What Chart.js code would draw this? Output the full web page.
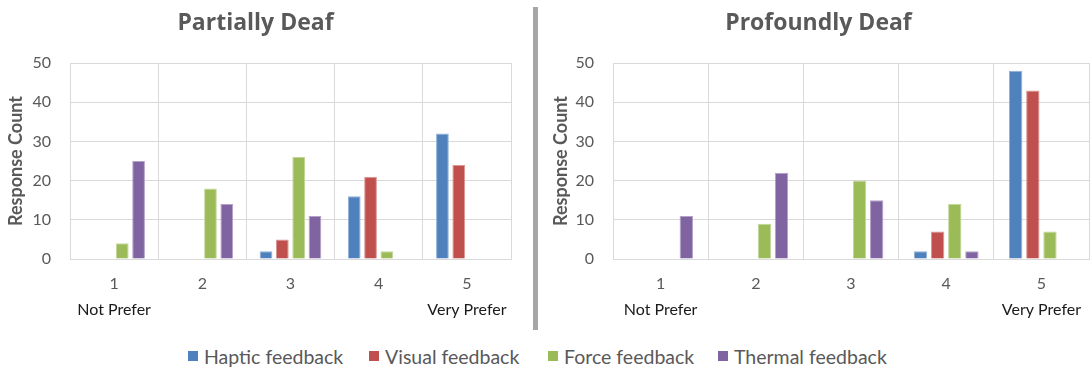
<!DOCTYPE html>
<html>
<head>
<meta charset="utf-8">
<script src="https://cdn.jsdelivr.net/npm/chart.js@4.4.1/dist/chart.umd.min.js"></script>
<style>
  html, body { margin: 0; padding: 0; background: #ffffff; }
  #stage { position: relative; width: 1090px; height: 369px; overflow: hidden; font-family: Lato, "Open Sans", sans-serif; }
  canvas { position: absolute; top: 0; }
  #divider { position: absolute; left: 533px; top: 7px; width: 5px; height: 323px; background: #a6a6a6; }
  .key { position: absolute; top: 345px; height: 22px; display: flex; align-items: center; color: #595959; font-size: 19.5px; white-space: nowrap; }
  .key i { display: inline-block; width: 10px; height: 10px; margin-right: 6px; }
</style>
</head>
<body>
<div id="stage">
  <canvas id="partial" width="514" height="330" style="left:0px"></canvas>
  <div id="divider"></div>
  <canvas id="profound" width="542" height="330" style="left:548px"></canvas>
  <div id="legend"></div>
</div>
<script>
// Preference scale (1 = not preferred, 5 = very preferred)
const categories = ['1', '2', '3', '4', '5'];
const scaleNotes = ['Not Prefer', '', '', '', 'Very Prefer'];
const yTicks = [0, 10, 20, 30, 40, 50];

const seriesNames = ['Haptic feedback', 'Visual feedback', 'Force feedback', 'Thermal feedback'];
const seriesColors = ['#4f81bd', '#c0504d', '#9bbb59', '#8064a2'];
const seriesEdges = ['#8fb0d8', '#d99694', '#c3d69b', '#b3a2c7'];

// Partially deaf respondents
const partialHaptic  = [0, 0, 2, 16, 32];
const partialVisual  = [0, 0, 5, 21, 24];
const partialForce   = [4, 18, 26, 2, 0];
const partialThermal = [25, 14, 11, 0, 0];

// Profoundly deaf respondents
const profoundHaptic  = [0, 0, 0, 2, 48];
const profoundVisual  = [0, 0, 0, 7, 43];
const profoundForce   = [0, 9, 20, 14, 7];
const profoundThermal = [11, 22, 15, 2, 0];

const FONT = 'Lato, "Open Sans", sans-serif';
const HEAD_FONT = '"Open Sans", Lato, sans-serif';
const GRID = '#d9d9d9';
const TEXT = '#595959';

function buildChart(id, titleText, series, yWidth, padRight, titlePad, catPct) {
  return new Chart(document.getElementById(id), {
    type: 'bar',
    data: {
      labels: categories,
      datasets: series.map((values, i) => ({
        label: seriesNames[i],
        data: values,
        backgroundColor: seriesColors[i],
        borderColor: seriesEdges[i],
        borderWidth: 1,
        categoryPercentage: catPct,
        barPercentage: 0.78
      }))
    },
    options: {
      responsive: false,
      animation: false,
      devicePixelRatio: 1,
      layout: { padding: { left: 0, right: padRight, top: 0, bottom: 11 } },
      plugins: {
        legend: { display: false },
        tooltip: { enabled: false },
        title: {
          display: true,
          text: titleText,
          color: TEXT,
          font: { family: HEAD_FONT, size: 23, weight: 'bold' },
          padding: { top: 10, bottom: 25.4 }
        }
      },
      scales: {
        x: {
          type: 'category',
          position: 'bottom',
          weight: 1,
          grid: { color: GRID, offset: true, drawTicks: false },
          border: { color: GRID },
          ticks: { color: TEXT, font: { family: FONT, size: 16 }, padding: 15, maxRotation: 0 },
          afterFit: s => { s.height = 34; }
        },
        x2: {
          type: 'category',
          position: 'bottom',
          weight: 2,
          labels: scaleNotes,
          grid: { display: false, drawTicks: false },
          border: { display: false },
          ticks: { color: '#1a1a1a', font: { family: FONT, size: 16 }, padding: 7, autoSkip: false, maxRotation: 0 },
          afterFit: s => { s.height = 26; }
        },
        y: {
          min: 0,
          max: 50,
          afterBuildTicks: s => { s.ticks = yTicks.map(v => ({ value: v })); },
          grid: { color: GRID, drawTicks: false },
          border: { color: GRID },
          ticks: { color: TEXT, font: { family: FONT, size: 16 }, padding: 19 },
          title: {
            display: true,
            text: 'Response Count',
            color: TEXT,
            font: { family: FONT, size: 18, weight: 'bold' },
            padding: { top: titlePad, bottom: 0 }
          },
          afterFit: s => { s.width = yWidth; }
        }
      }
    }
  });
}

buildChart('partial', 'Partially Deaf',
  [partialHaptic, partialVisual, partialForce, partialThermal], 70, 3, 5, 0.74);
buildChart('profound', 'Profoundly Deaf',
  [profoundHaptic, profoundVisual, profoundForce, profoundThermal], 65, 1, 2, 0.72);

// Shared legend beneath both panels
const keyLeft = [188, 369, 548, 718];
const legend = document.getElementById('legend');
seriesNames.forEach((name, i) => {
  const item = document.createElement('div');
  item.className = 'key';
  item.style.left = keyLeft[i] + 'px';
  const swatch = document.createElement('i');
  swatch.style.background = seriesColors[i];
  item.appendChild(swatch);
  item.appendChild(document.createTextNode(name));
  legend.appendChild(item);
});
</script>
</body>
</html>
